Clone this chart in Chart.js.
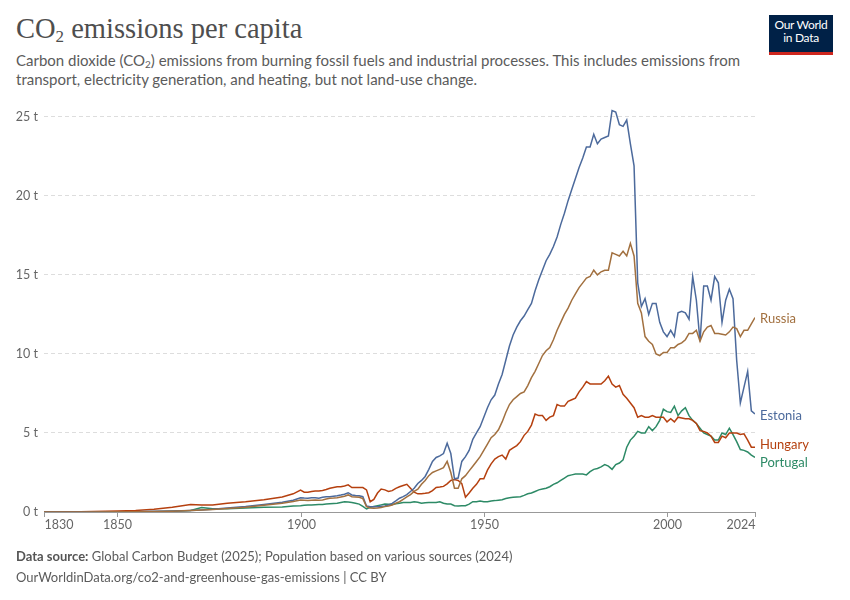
<!DOCTYPE html>
<html>
<head>
<meta charset="utf-8">
<script src="https://cdn.jsdelivr.net/npm/chart.js@4.4.1/dist/chart.umd.min.js"></script>
<style>
  html, body { margin: 0; padding: 0; background: #fff; }
  body { width: 850px; height: 600px; position: relative; overflow: hidden; font-family: Lato, sans-serif; }
  #chart { position: absolute; left: 0; top: 0; }
  .title { position: absolute; left: 16px; top: 13px; font-family: "Liberation Serif", serif; font-size: 28.5px; line-height: 32px; color: #4e4e4e; }
  .title sub { font-size: 17px; vertical-align: -4px; line-height: 0; }
  .subtitle { position: absolute; left: 16px; top: 51px; font-size: 15px; line-height: 19px; color: #5b5b5b; }
  .subtitle sub { font-size: 10px; vertical-align: -2px; line-height: 0; }
  .footer { position: absolute; left: 16px; top: 546px; font-size: 13px; line-height: 21px; color: #5b5b5b; }
  .footer b { font-weight: 700; color: #555; }
  .logo { position: absolute; left: 769px; top: 15px; width: 64px; height: 34px; background: #002147; border-bottom: 3px solid #ce261e; color: #fff; font-size: 12px; line-height: 13px; text-align: center; padding-top: 3px; box-sizing: content-box; letter-spacing: -0.3px; }
</style>
</head>
<body>
<div class="title">CO<sub>2</sub> emissions per capita</div>
<div class="subtitle">Carbon dioxide (CO<sub>2</sub>) emissions from burning fossil fuels and industrial processes. This includes emissions from<br>transport, electricity generation, and heating, but not land-use change.</div>
<div class="logo">Our World<br>in Data</div>
<canvas id="chart" width="850" height="600"></canvas>
<div class="footer"><b>Data source:</b> Global Carbon Budget (2025); Population based on various sources (2024)<br>OurWorldinData.org/co2-and-greenhouse-gas-emissions | CC BY</div>

<script>
// Tahun (sumbu x)
const years = [
  1830, 1840, 1850, 1855, 1860, 1865, 1870, 1873, 1876, 1880, 1885, 1890, 1895, 1898,
  1900, 1901, 1902, 1903, 1904, 1905, 1906, 1907, 1908, 1909,
  1910, 1911, 1912, 1913, 1914, 1915, 1916, 1917, 1918, 1919,
  1920, 1921, 1922, 1923, 1924, 1925, 1926, 1927, 1928, 1929,
  1930, 1931, 1932, 1933, 1934, 1935, 1936, 1937, 1938, 1939,
  1940, 1941, 1942, 1943, 1944, 1945, 1946, 1947, 1948, 1949,
  1950, 1951, 1952, 1953, 1954, 1955, 1956, 1957, 1958, 1959,
  1960, 1961, 1962, 1963, 1964, 1965, 1966, 1967, 1968, 1969,
  1970, 1971, 1972, 1973, 1974, 1975, 1976, 1977, 1978, 1979,
  1980, 1981, 1982, 1983, 1984, 1985, 1986, 1987, 1988, 1989,
  1990, 1991, 1992, 1993, 1994, 1995, 1996, 1997, 1998, 1999,
  2000, 2001, 2002, 2003, 2004, 2005, 2006, 2007, 2008, 2009,
  2010, 2011, 2012, 2013, 2014, 2015, 2016, 2017, 2018, 2019,
  2020, 2021, 2022, 2023, 2024
];

// Emisi CO2 per kapita (ton)
const estonia = [
  0, 0, 0.01, 0.02, 0.04, 0.07, 0.1, 0.13, 0.17, 0.25, 0.35, 0.48, 0.62, 0.75,
  0.9, 0.88, 0.87, 0.9, 0.9, 0.87, 0.93, 0.97, 0.97, 1.0,
  1.03, 1.07, 1.12, 1.22, 1.08, 1.05, 1.03, 0.97, 0.38, 0.34,
  0.34, 0.34, 0.36, 0.38, 0.44, 0.55, 0.7, 0.87, 0.97, 1.1,
  1.3, 1.5, 1.8, 2.0, 2.25, 2.7, 3.2, 3.45, 3.55, 3.7,
  4.35, 3.7, 2.1, 2.15, 3.2, 3.5, 3.9, 4.6, 5.0, 5.4,
  6.0, 6.6, 7.1, 7.4, 8.1, 8.7, 9.6, 10.5, 11.2, 11.7,
  12.1, 12.4, 12.8, 13.2, 14.0, 14.7, 15.3, 15.9, 16.3, 16.8,
  17.4, 18.2, 18.9, 19.7, 20.4, 21.1, 21.8, 22.4, 23.1, 23.1,
  23.9, 23.3, 23.6, 23.7, 23.8, 25.4, 25.3, 24.5, 24.4, 24.8,
  23.3, 21.9, 14.5, 13.0, 13.5, 12.5, 13.2, 13.2, 12.0, 11.4,
  11.1, 11.5, 11.1, 12.6, 12.7, 12.6, 12.2, 14.9, 13.4, 10.8,
  14.3, 14.3, 13.4, 14.9, 14.5, 12.0, 13.4, 14.1, 13.5, 9.6,
  6.9, 7.9, 8.9, 6.4, 6.2
];
const russia = [
  0, 0, 0.01, 0.02, 0.03, 0.05, 0.09, 0.12, 0.16, 0.22, 0.3, 0.42, 0.55, 0.66,
  0.76, 0.74, 0.72, 0.74, 0.76, 0.74, 0.76, 0.82, 0.87, 0.88,
  0.9, 0.95, 1.0, 1.08, 0.97, 0.95, 0.93, 0.85, 0.34, 0.25,
  0.23, 0.25, 0.28, 0.34, 0.38, 0.44, 0.55, 0.65, 0.8, 0.95,
  1.1, 1.3, 1.45, 1.75, 2.0, 2.3, 2.5, 2.6, 2.7, 2.8,
  3.2, 2.5, 1.5, 1.5, 2.1, 2.3, 2.6, 2.9, 3.2, 3.5,
  3.9, 4.3, 4.7, 4.9, 5.2, 5.7, 6.3, 6.8, 7.1, 7.3,
  7.5, 7.6, 8.0, 8.5, 8.9, 9.4, 9.9, 10.2, 10.4, 10.9,
  11.5, 12.0, 12.5, 12.9, 13.4, 13.8, 14.2, 14.5, 14.8, 14.9,
  15.3, 15.0, 15.2, 15.3, 15.3, 16.4, 16.3, 16.2, 16.5, 16.2,
  17.0, 16.2, 13.2, 12.6, 11.1, 10.8, 10.6, 10.0, 9.9, 10.1,
  10.1, 10.4, 10.4, 10.6, 10.7, 10.9, 11.3, 11.3, 11.5, 10.8,
  11.4, 11.7, 11.8, 11.3, 11.3, 11.25, 11.2, 11.4, 11.7, 11.6,
  11.1, 11.5, 11.5, 11.9, 12.3
];
const hungary = [
  0, 0.02, 0.06, 0.1, 0.18, 0.3, 0.47, 0.44, 0.45, 0.55, 0.65, 0.78, 0.95, 1.15,
  1.38, 1.25, 1.25, 1.3, 1.33, 1.33, 1.36, 1.42, 1.5, 1.55,
  1.6, 1.6, 1.65, 1.72, 1.55, 1.55, 1.55, 1.55, 1.4, 0.65,
  0.8, 1.2, 1.45, 1.4, 1.3, 1.35, 1.5, 1.6, 1.68, 1.75,
  1.5, 1.25, 1.15, 1.15, 1.18, 1.22, 1.35, 1.55, 1.58, 1.62,
  1.78, 2.0, 2.05, 2.0, 1.8, 0.93, 1.2, 1.5, 1.75, 2.1,
  2.1, 2.65, 3.05, 3.35, 3.5, 3.6, 3.35, 3.9, 4.05, 4.2,
  4.45, 4.85, 5.1, 5.5, 6.2, 6.1, 6.1, 5.8, 6.0, 6.1,
  6.8, 6.7, 6.7, 7.0, 7.1, 7.2, 7.6, 7.9, 8.25, 8.1,
  8.1, 8.1, 8.1, 8.3, 8.6, 8.1, 7.9, 8.0, 7.45, 7.2,
  6.9, 6.6, 6.0, 6.1, 6.0, 6.0, 6.1, 6.0, 6.0, 6.0,
  5.7, 5.9, 5.7, 6.0, 5.95, 5.9, 5.9, 5.8, 5.6, 5.15,
  5.1, 5.0, 4.8, 4.4, 4.4, 4.8, 4.7, 5.0, 5.0, 5.0,
  4.9, 4.95, 4.55, 4.1, 4.1
];
const portugal = [
  0, 0, 0, 0.01, 0.02, 0.05, 0.1, 0.28, 0.2, 0.2, 0.25, 0.3, 0.32, 0.38,
  0.4, 0.42, 0.44, 0.45, 0.46, 0.47, 0.48, 0.5, 0.52, 0.54,
  0.55, 0.6, 0.65, 0.63, 0.6, 0.55, 0.5, 0.35, 0.19, 0.3,
  0.35, 0.4, 0.45, 0.5, 0.49, 0.48, 0.52, 0.55, 0.6, 0.6,
  0.6, 0.65, 0.62, 0.55, 0.58, 0.6, 0.6, 0.6, 0.65, 0.55,
  0.5, 0.5, 0.4, 0.38, 0.4, 0.4, 0.5, 0.65, 0.65, 0.7,
  0.65, 0.65, 0.7, 0.72, 0.75, 0.78, 0.85, 0.9, 0.93, 0.95,
  0.97, 1.05, 1.15, 1.2, 1.3, 1.4, 1.45, 1.5, 1.6, 1.75,
  1.85, 2.0, 2.15, 2.3, 2.35, 2.4, 2.4, 2.4, 2.35, 2.55,
  2.7, 2.75, 2.85, 3.0, 2.9, 2.7, 3.0, 3.1, 3.3, 4.1,
  4.55, 4.8, 5.1, 5.0, 5.0, 5.4, 5.15, 5.4, 5.8, 6.5,
  6.35, 6.3, 6.7, 6.1, 6.4, 6.6, 6.1, 5.8, 5.6, 5.3,
  5.0, 4.9, 4.8, 4.55, 4.55, 5.0, 4.9, 5.3, 4.9, 4.45,
  3.95, 3.9, 3.8, 3.6, 3.45
];

// Label sumbu
const xTicks = [1830, 1850, 1900, 1950, 2000, 2024];
const yTicks = [0, 5, 10, 15, 20, 25];

const series = [
  { name: 'Russia', values: russia, color: '#a2703f' },
  { name: 'Estonia', values: estonia, color: '#4c6a9c' },
  { name: 'Hungary', values: hungary, color: '#b5400f' },
  { name: 'Portugal', values: portugal, color: '#2d8a66' }
];

const axisGray = '#666';

// Plugin: label tahun di sumbu x dan nama negara di ujung garis
const labelPlugin = {
  id: 'owidLabels',
  afterDraw(chart) {
    const ctx = chart.ctx;
    const xs = chart.scales.x;
    const ys = chart.scales.y;
    const bottom = chart.chartArea.bottom;
    ctx.save();

    // tick x + label
    ctx.strokeStyle = '#999';
    ctx.lineWidth = 1;
    ctx.fillStyle = axisGray;
    ctx.font = '12.5px Lato';
    ctx.textBaseline = 'middle';
    xTicks.forEach(function(t, i) {
      const px = Math.round(xs.getPixelForValue(t)) + 0.5;
      ctx.beginPath();
      ctx.moveTo(px, bottom);
      ctx.lineTo(px, bottom + 5);
      ctx.stroke();
      ctx.textAlign = i === 0 ? 'left' : (i === xTicks.length - 1 ? 'right' : 'center');
      ctx.fillText(String(t), px, bottom + 13);
    });

    // label negara, disusun supaya tidak bertumpuk
    const items = series.map(function(s) {
      return { name: s.name, color: s.color, y: ys.getPixelForValue(s.values[s.values.length - 1]) };
    }).sort(function(a, b) { return a.y - b.y; });
    const gap = 18;
    for (let iter = 0; iter < 10; iter++) {
      for (let i = 1; i < items.length; i++) {
        const d = items[i].y - items[i - 1].y;
        if (d < gap) {
          const shift = (gap - d) / 2;
          items[i - 1].y -= shift;
          items[i].y += shift;
        }
      }
    }
    ctx.font = '13px Lato';
    ctx.textAlign = 'left';
    items.forEach(function(it) {
      ctx.fillStyle = it.color;
      ctx.fillText(it.name, chart.chartArea.right + 5, it.y + 1.5);
    });
    ctx.restore();
  }
};

Chart.defaults.font.family = 'Lato';

const ctx = document.getElementById('chart').getContext('2d');
new Chart(ctx, {
  type: 'line',
  data: {
    datasets: series.map(function(s) {
      return {
        label: s.name,
        data: years.map(function(y, i) { return { x: y, y: s.values[i] }; }),
        borderColor: s.color,
        backgroundColor: s.color,
        borderWidth: 1.5,
        pointRadius: 0,
        tension: 0
      };
    })
  },
  options: {
    responsive: false,
    animation: false,
    layout: { padding: { left: 0, right: 95, top: 109, bottom: 58 } },
    plugins: {
      legend: { display: false },
      tooltip: { enabled: false }
    },
    scales: {
      x: {
        type: 'linear',
        min: 1830,
        max: 2024,
        grid: { display: false },
        border: { display: true, color: '#999', width: 1 },
        ticks: { display: false },
        afterFit: function(scale) { scale.height = 30; }
      },
      y: {
        min: 0,
        max: 25.5,
        afterBuildTicks: function(scale) {
          scale.ticks = yTicks.map(function(v) { return { value: v }; });
        },
        grid: {
          drawTicks: false,
          color: function(c) { return c.tick && c.tick.value === 0 ? 'rgba(0,0,0,0)' : '#dddddd'; },
          lineWidth: 1
        },
        border: { display: false, dash: [4, 3] },
        ticks: {
          padding: 6,
          color: axisGray,
          font: { size: 12.5 },
          callback: function(v) { return v + ' t'; }
        },
        afterFit: function(scale) { scale.width = 44; }
      }
    }
  },
  plugins: [labelPlugin]
});
</script>
</body>
</html>
